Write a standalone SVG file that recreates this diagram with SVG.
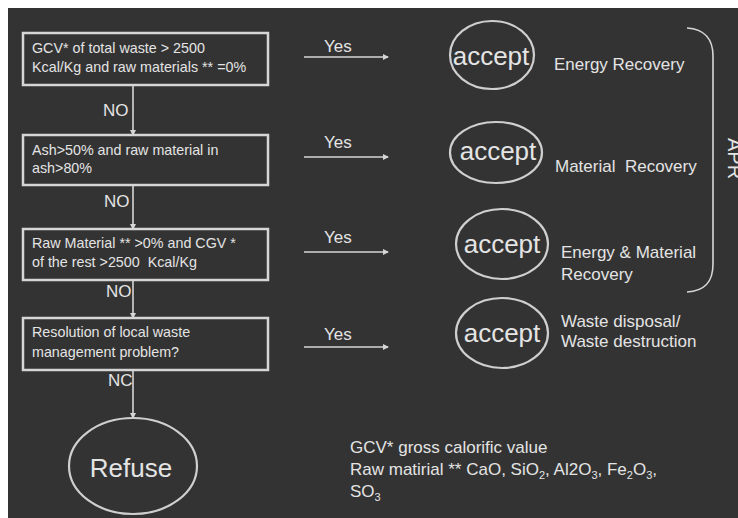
<svg xmlns="http://www.w3.org/2000/svg" width="738" height="518" viewBox="0 0 738 518">
<style>
text{font-family:"Liberation Sans",Arial,sans-serif;fill:#e4e4e4;white-space:pre}
.box{fill:none;stroke:#d6d6d6;stroke-width:2.5}
.ell{fill:none;stroke:#cfcfcf;stroke-width:2.2}
.bt{font-size:14.3px}
.no{font-size:17px}
.yes{font-size:17px}
.acc{font-size:26px}
.lab{font-size:17px}
.con{fill:none;stroke:#d6d6d6;stroke-width:1.6}
</style>
<defs>
<marker id="ah" markerWidth="6" markerHeight="6" refX="5" refY="3" orient="auto" markerUnits="userSpaceOnUse">
<path d="M0,0 L6,3 L0,6 Z" fill="#d6d6d6"/>
</marker>
</defs>
<rect x="0" y="0" width="738" height="518" fill="#ffffff"/>
<rect x="8" y="8" width="730" height="510" fill="#333333"/>

<g id="connectors">
<line class="con" x1="133" y1="85" x2="133" y2="135" marker-end="url(#ah)"/>
<line class="con" x1="133" y1="185" x2="133" y2="229" marker-end="url(#ah)"/>
<line class="con" x1="133" y1="280" x2="133" y2="318" marker-end="url(#ah)"/>
<line class="con" x1="133" y1="370" x2="133" y2="418" marker-end="url(#ah)"/>
<line class="con" x1="304" y1="57" x2="388" y2="57" marker-end="url(#ah)"/>
<line class="con" x1="304" y1="157" x2="388" y2="157" marker-end="url(#ah)"/>
<line class="con" x1="304" y1="252" x2="388" y2="252" marker-end="url(#ah)"/>
<line class="con" x1="304" y1="347" x2="388" y2="347" marker-end="url(#ah)"/>
<text class="no" x="103" y="116">NO</text>
<text class="no" x="104" y="207">NO</text>
<text class="no" x="106" y="297">NO</text>
<text class="no" x="108" y="386">NC</text>
<text class="yes" x="324" y="52">Yes</text>
<text class="yes" x="324" y="148">Yes</text>
<text class="yes" x="324" y="243">Yes</text>
<text class="yes" x="324" y="340">Yes</text>
</g>

<g id="box1">
<rect class="box" x="23" y="33" width="245" height="52"/>
<text class="bt" x="32" y="53">GCV* of total waste &gt; 2500</text>
<text class="bt" x="32" y="72">Kcal/Kg and raw materials ** =0%</text>
</g>
<g id="box2">
<rect class="box" x="23" y="135" width="245" height="50"/>
<text class="bt" x="32" y="155">Ash&gt;50% and raw material in</text>
<text class="bt" x="32" y="173">ash&gt;80%</text>
</g>
<g id="box3">
<rect class="box" x="23" y="229" width="245" height="51"/>
<text class="bt" x="32" y="248">Raw Material ** &gt;0% and CGV *</text>
<text class="bt" x="32" y="267">of the rest &gt;2500  Kcal/Kg</text>
</g>
<g id="box4">
<rect class="box" x="23" y="318" width="245" height="52"/>
<text class="bt" x="32" y="337">Resolution of local waste</text>
<text class="bt" x="32" y="357">management problem?</text>
</g>
<g id="refuse">
<ellipse class="ell" cx="133" cy="466" rx="64" ry="48"/>
<text x="131" y="477" font-size="26" text-anchor="middle">Refuse</text>
</g>

<g id="accept1">
<ellipse class="ell" cx="492" cy="55" rx="42" ry="34"/>
<text class="acc" x="491" y="65" text-anchor="middle">accept</text>
<text class="lab" x="554" y="70">Energy Recovery</text>
</g>
<g id="accept2">
<ellipse class="ell" cx="496" cy="152.5" rx="46" ry="30.5"/>
<text class="acc" x="498" y="160" text-anchor="middle">accept</text>
<text class="lab" x="555" y="172">Material  Recovery</text>
</g>
<g id="accept3">
<ellipse class="ell" cx="502" cy="244" rx="46" ry="35"/>
<text class="acc" x="502" y="253" text-anchor="middle">accept</text>
<text class="lab" x="561" y="258">Energy &amp; Material</text>
<text class="lab" x="561" y="280">Recovery</text>
</g>
<g id="accept4">
<ellipse class="ell" cx="502" cy="333" rx="46" ry="35"/>
<text class="acc" x="502" y="342" text-anchor="middle">accept</text>
<text class="lab" x="561" y="327">Waste disposal/</text>
<text class="lab" x="561" y="347">Waste destruction</text>
</g>

<g id="apr">
<path class="con" d="M687,28 C705,29 713,40 713,56 L713,264 C713,282 705,291 687,292"/>
<text x="728" y="138" font-size="20" transform="rotate(90 728 138)">APR</text>
</g>

<g id="legend">
<text class="lab" x="350" y="453">GCV* gross calorific value</text>
<text class="lab" x="350" y="475">Raw matirial ** CaO, SiO<tspan font-size="11" dy="4">2</tspan><tspan dy="-4">, Al2O</tspan><tspan font-size="11" dy="4">3</tspan><tspan dy="-4">, Fe</tspan><tspan font-size="11" dy="4">2</tspan><tspan dy="-4">O</tspan><tspan font-size="11" dy="4">3</tspan><tspan dy="-4">,</tspan></text>
<text class="lab" x="350" y="497">SO<tspan font-size="11" dy="4">3</tspan></text>
</g>
</svg>
